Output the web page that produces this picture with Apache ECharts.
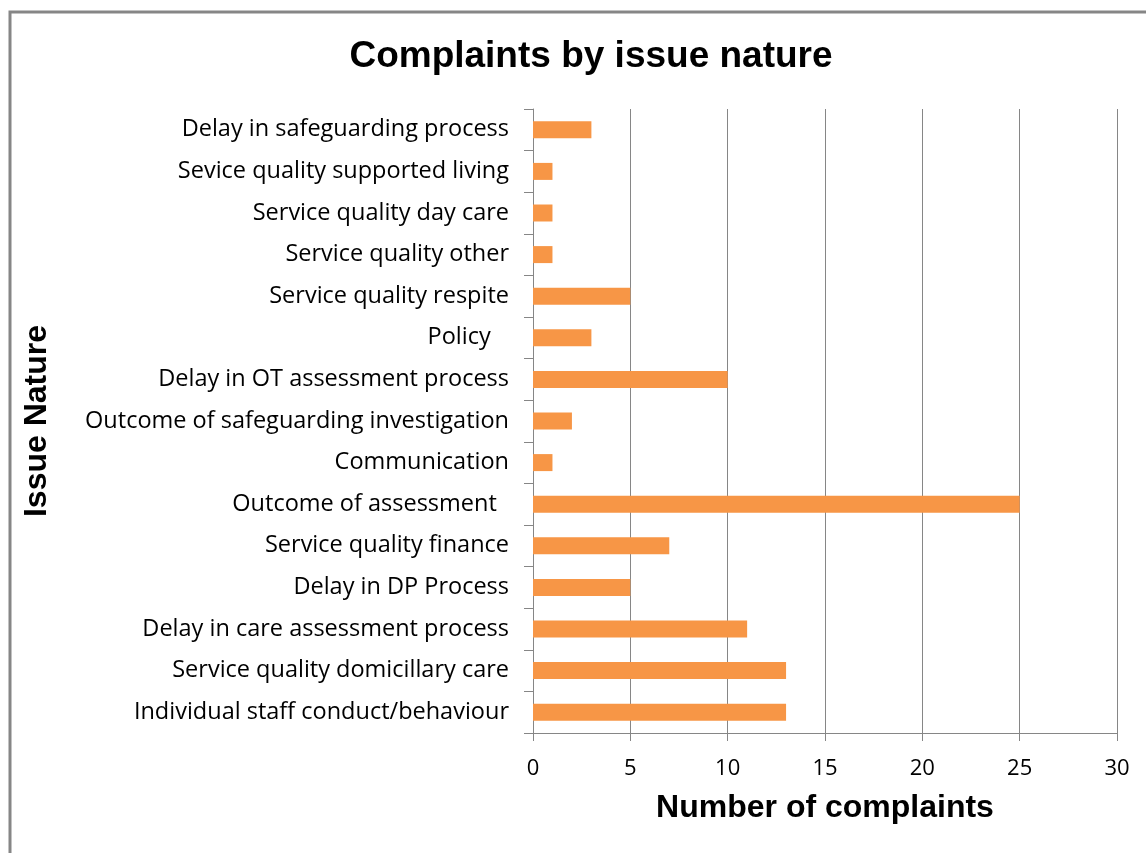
<!DOCTYPE html>
<html>
<head>
<meta charset="utf-8">
<script src="https://cdn.jsdelivr.net/npm/echarts@6/dist/echarts.min.js"></script>
<style>
html,body{margin:0;padding:0;background:#fff;}
#c{width:1146px;height:853px;}
</style>
</head>
<body>
<div id="c"></div>
<script>
const categories = [
  "Delay in safeguarding process",
  "Sevice quality supported living",
  "Service quality day care",
  "Service quality other",
  "Service quality respite",
  "Policy   ",
  "Delay in OT assessment process",
  "Outcome of safeguarding investigation",
  "Communication",
  "Outcome of assessment  ",
  "Service quality finance",
  "Delay in DP Process",
  "Delay in care assessment process",
  "Service quality domicillary care",
  "Individual staff conduct/behaviour"
];
const complaints = [3, 1, 1, 1, 5, 3, 10, 2, 1, 25, 7, 5, 11, 13, 13];
const xTicks = { min: 0, max: 30, interval: 5 };

const chart = echarts.init(document.getElementById('c'), null, {renderer: 'canvas'});
const gray = '#868686';
chart.setOption({
  animation: false,
  backgroundColor: '#fff',
  graphic: [{
    type: 'rect',
    shape: {x: 10, y: 12, width: 1200, height: 900},
    style: {fill: 'none', stroke: gray, lineWidth: 3},
    silent: true
  }],
  title: {
    text: 'Complaints by issue nature',
    left: 586, top: 33, textAlign: 'center',
    textStyle: {fontFamily: 'Liberation Sans', fontWeight: 'bold', fontSize: 37, color: '#000'}
  },
  grid: {left: 533, right: 29, top: 109, bottom: 120, containLabel: false},
  xAxis: {
    type: 'value',
    min: xTicks.min, max: xTicks.max, interval: xTicks.interval,
    name: 'Number of complaints',
    nameLocation: 'middle',
    nameGap: 59,
    nameTextStyle: {fontFamily: 'Liberation Sans', fontWeight: 'bold', fontSize: 32, color: '#000'},
    axisLine: {show: true, lineStyle: {color: gray, width: 1}},
    axisTick: {show: true, length: 8, lineStyle: {color: gray}},
    axisLabel: {fontFamily: 'Open Sans', fontSize: 22, color: '#000', margin: 25},
    splitLine: {show: true, lineStyle: {color: gray, width: 1}}
  },
  yAxis: {
    type: 'category',
    data: categories,
    inverse: true,
    name: 'Issue Nature',
    nameLocation: 'middle',
    nameGap: 480,
    nameRotate: 90,
    nameTextStyle: {fontFamily: 'Liberation Sans', fontWeight: 'bold', fontSize: 32, color: '#000'},
    axisLine: {show: true, lineStyle: {color: gray, width: 1}},
    axisTick: {show: true, length: 9, lineStyle: {color: gray}},
    axisLabel: {fontFamily: 'Open Sans', fontSize: 23.5, color: '#000', margin: 24},
    splitLine: {show: false}
  },
  series: [{
    type: 'bar',
    data: complaints,
    barWidth: 17,
    itemStyle: {color: '#F79646'}
  }]
});
</script>
</body>
</html>
